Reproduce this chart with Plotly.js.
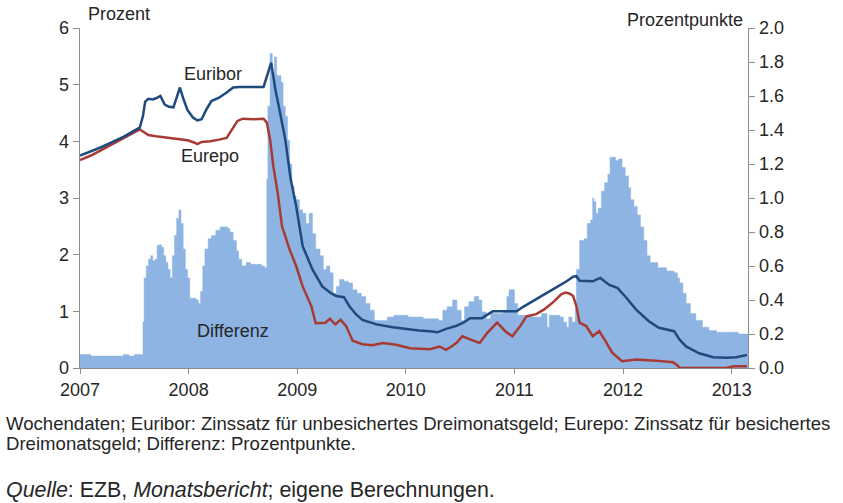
<!DOCTYPE html>
<html>
<head>
<meta charset="utf-8">
<script src="https://cdn.plot.ly/plotly-3.0.1.min.js"></script>
<style>html,body{margin:0;padding:0;background:#fff;}#chart{width:843px;height:503px;}</style>
</head>
<body>
<div id="chart"></div>
<script>
// Differenz (Prozentpunkte, rechte Skala) — decimal years
const diffYears = [2007.00,2007.05,2007.10,2007.15,2007.20,2007.25,2007.30,2007.35,2007.40,2007.45,2007.50,2007.55,
2007.58,2007.59,2007.61,2007.63,2007.65,2007.67,2007.69,2007.71,2007.73,2007.75,2007.77,2007.79,2007.81,2007.83,2007.85,2007.87,2007.89,2007.91,2007.93,2007.95,2007.97,2007.99,
2008.01,2008.04,2008.07,2008.09,2008.11,2008.13,2008.15,2008.18,2008.21,2008.25,2008.29,2008.33,2008.36,2008.38,2008.41,2008.44,2008.46,2008.49,2008.53,2008.57,2008.62,2008.67,2008.70,
2008.72,2008.73,2008.75,2008.77,2008.79,2008.81,2008.83,2008.85,2008.87,2008.89,2008.91,2008.93,2008.95,2008.97,2008.99,
2009.02,2009.05,2009.08,2009.11,2009.14,2009.17,2009.21,2009.24,2009.27,2009.30,2009.33,2009.36,2009.39,2009.43,2009.47,2009.51,2009.55,2009.59,2009.63,2009.67,2009.71,2009.77,2009.83,2009.89,2009.95,
2010.02,2010.10,2010.16,2010.22,2010.30,2010.34,2010.38,2010.43,2010.47,2010.51,2010.54,2010.58,2010.63,2010.67,2010.70,2010.74,2010.78,2010.85,2010.90,2010.93,2010.95,2010.98,
2011.00,2011.03,2011.10,2011.18,2011.25,2011.30,2011.32,2011.37,2011.42,2011.45,2011.48,2011.50,2011.53,2011.56,2011.57,2011.60,2011.64,2011.67,2011.70,2011.72,2011.73,2011.75,2011.77,2011.80,2011.83,2011.86,2011.88,2011.91,2011.93,2011.96,2011.99,
2012.02,2012.05,2012.07,2012.10,2012.13,2012.16,2012.19,2012.22,2012.25,2012.32,2012.40,2012.47,2012.50,2012.52,2012.55,2012.58,2012.62,2012.67,2012.73,2012.79,2012.86,2012.95,
2013.02,2013.06,2013.15];
const diffValues = [0.08,0.08,0.07,0.07,0.07,0.07,0.07,0.07,0.08,0.07,0.08,0.08,
0.27,0.53,0.60,0.64,0.66,0.63,0.64,0.72,0.725,0.71,0.66,0.62,0.58,0.53,0.66,0.78,0.88,0.93,0.85,0.70,0.58,0.53,
0.41,0.41,0.40,0.38,0.45,0.60,0.70,0.76,0.78,0.81,0.83,0.83,0.82,0.80,0.75,0.69,0.64,0.60,0.62,0.61,0.61,0.60,0.59,
1.11,1.54,1.85,1.74,1.83,1.72,1.72,1.68,1.54,1.48,1.34,1.20,1.07,1.01,0.99,
0.93,0.91,0.85,0.91,0.79,0.70,0.66,0.58,0.60,0.56,0.44,0.48,0.52,0.51,0.50,0.46,0.44,0.42,0.38,0.34,0.28,0.28,0.30,0.31,0.31,
0.30,0.30,0.29,0.29,0.28,0.34,0.36,0.40,0.34,0.28,0.36,0.39,0.42,0.40,0.33,0.29,0.32,0.32,0.33,0.42,0.46,0.46,
0.38,0.31,0.30,0.30,0.32,0.24,0.31,0.31,0.30,0.27,0.24,0.30,0.27,0.35,0.58,0.75,0.76,0.85,0.87,1.00,0.98,0.91,0.94,1.04,1.09,1.14,1.24,1.24,1.22,1.23,1.18,
1.13,1.06,0.99,0.95,0.90,0.83,0.75,0.66,0.62,0.59,0.57,0.56,0.53,0.50,0.44,0.38,0.32,0.28,0.24,0.22,0.21,0.21,
0.21,0.20,0.20];

// Euribor (Prozent, linke Skala)
const euriborYears = [2007.00,2007.10,2007.20,2007.30,2007.40,2007.50,2007.55,2007.58,2007.60,2007.63,2007.67,2007.70,2007.74,2007.78,2007.82,2007.86,2007.89,2007.92,2007.95,2007.99,
2008.04,2008.08,2008.12,2008.16,2008.21,2008.28,2008.35,2008.41,2008.47,2008.55,2008.62,2008.69,2008.76,2008.80,2008.83,2008.89,2008.94,2008.99,
2009.05,2009.14,2009.23,2009.31,2009.36,2009.43,2009.48,2009.54,2009.60,2009.73,2009.88,
2010.04,2010.12,2010.22,2010.29,2010.37,2010.46,2010.53,2010.59,2010.70,2010.80,2010.91,
2011.02,2011.08,2011.14,2011.20,2011.27,2011.36,2011.40,2011.48,2011.54,2011.57,2011.60,2011.72,2011.79,2011.87,2011.95,
2012.03,2012.12,2012.24,2012.33,2012.47,2012.52,2012.58,2012.70,2012.83,2012.95,2013.04,2013.14];
const euriborValues = [3.75,3.82,3.90,3.99,4.08,4.19,4.24,4.45,4.70,4.75,4.74,4.76,4.80,4.65,4.61,4.60,4.78,4.95,4.76,4.55,
4.42,4.37,4.39,4.55,4.71,4.77,4.86,4.95,4.96,4.96,4.97,4.96,5.39,4.90,4.62,4.03,3.33,2.86,
2.15,1.74,1.44,1.32,1.27,1.25,1.09,0.95,0.85,0.77,0.72,
0.68,0.66,0.65,0.63,0.69,0.74,0.80,0.88,0.88,1.00,1.00,
1.00,1.08,1.15,1.22,1.29,1.40,1.44,1.53,1.61,1.62,1.54,1.53,1.59,1.47,1.41,
1.24,1.03,0.82,0.71,0.65,0.50,0.38,0.26,0.19,0.18,0.19,0.23];

// Eurepo (Prozent, linke Skala)
const eurepoYears = [2007.00,2007.10,2007.20,2007.30,2007.40,2007.50,2007.55,2007.59,2007.63,2007.70,2007.78,2007.86,2007.92,2007.99,
2008.05,2008.08,2008.12,2008.20,2008.28,2008.35,2008.39,2008.45,2008.50,2008.60,2008.69,2008.72,2008.75,2008.78,2008.82,2008.86,2008.93,2008.99,
2009.05,2009.09,2009.13,2009.17,2009.26,2009.30,2009.35,2009.40,2009.45,2009.51,2009.60,2009.69,2009.79,2009.91,
2010.04,2010.13,2010.22,2010.31,2010.37,2010.42,2010.47,2010.52,2010.60,2010.68,2010.75,2010.84,2010.92,2010.98,
2011.05,2011.11,2011.20,2011.27,2011.35,2011.43,2011.47,2011.51,2011.54,2011.57,2011.60,2011.66,2011.72,2011.78,2011.83,2011.90,2011.99,
2012.12,2012.30,2012.46,2012.50,2012.52,2012.95,2013.02,2013.14];
const eurepoValues = [3.67,3.75,3.85,3.95,4.05,4.15,4.21,4.16,4.11,4.09,4.07,4.06,4.04,4.02,
3.98,3.95,3.99,4.00,4.03,4.06,4.18,4.36,4.40,4.39,4.40,4.33,4.03,3.56,3.09,2.50,2.09,1.80,
1.44,1.27,1.09,0.79,0.80,0.87,0.77,0.85,0.74,0.48,0.42,0.40,0.44,0.41,
0.35,0.34,0.33,0.38,0.32,0.38,0.45,0.56,0.50,0.44,0.62,0.80,0.64,0.56,
0.73,0.91,0.95,1.03,1.15,1.30,1.33,1.31,1.27,1.09,0.80,0.74,0.56,0.65,0.50,0.27,0.12,
0.15,0.13,0.10,0.05,0.00,0.00,0.03,0.03];

const xTickYears = [2007,2008,2009,2010,2011,2012,2013];

const font = 'Liberation Sans, Arial, sans-serif';
const textColor = '#262626';
const axisColor = '#8c8c8c';

const traces = [
  {x: diffYears, y: diffValues, type: 'scatter', mode: 'lines', line: {shape: 'hv', width: 0.5, color: '#8DB4E2'},
   fill: 'tozeroy', fillcolor: '#8DB4E2', yaxis: 'y', hoverinfo: 'skip', name: 'Differenz'},
  {x: eurepoYears, y: eurepoValues, type: 'scatter', mode: 'lines', line: {color: '#A93A33', width: 2.5},
   yaxis: 'y2', hoverinfo: 'skip', name: 'Eurepo'},
  {x: euriborYears, y: euriborValues, type: 'scatter', mode: 'lines', line: {color: '#1F4A7E', width: 2.5},
   yaxis: 'y2', hoverinfo: 'skip', name: 'Euribor'}
];

const layout = {
  width: 843, height: 503,
  margin: {l: 80, r: 95, t: 28, b: 135},
  paper_bgcolor: '#fff', plot_bgcolor: '#fff',
  showlegend: false,
  font: {family: font, size: 18, color: textColor},
  xaxis: {range: [2007, 2013.15], tickvals: xTickYears, ticktext: xTickYears.map(String),
    showgrid: false, zeroline: false, showline: true, linecolor: axisColor, linewidth: 1.3,
    ticks: 'outside', ticklen: 5, tickcolor: axisColor, tickfont: {size: 18, color: textColor}},
  yaxis: {range: [0, 2], dtick: 0.2, tickformat: '.1f', side: 'right',
    showgrid: false, zeroline: false, showline: true, linecolor: axisColor, linewidth: 1.3,
    ticks: 'outside', ticklen: 6, tickcolor: axisColor, tickfont: {size: 18, color: textColor}},
  yaxis2: {range: [0, 6], dtick: 1, side: 'left', overlaying: 'y',
    showgrid: false, zeroline: false, showline: true, linecolor: axisColor, linewidth: 1.3,
    ticks: 'outside', ticklen: 6, tickcolor: axisColor, tickfont: {size: 18, color: textColor}},
  annotations: [
    {text: 'Prozent', xref: 'paper', yref: 'paper', x: 0.009, y: 1.04, xanchor: 'left', yanchor: 'middle', showarrow: false, font: {size: 18}},
    {text: 'Prozentpunkte', xref: 'paper', yref: 'paper', x: 0.9955, y: 1.025, xanchor: 'right', yanchor: 'middle', showarrow: false, font: {size: 18}},
    {text: 'Euribor', xref: 'x', yref: 'y2', x: 2008.22, y: 5.18, showarrow: false, font: {size: 18}},
    {text: 'Eurepo', xref: 'x', yref: 'y2', x: 2008.20, y: 3.75, showarrow: false, font: {size: 18}},
    {text: 'Differenz', xref: 'x', yref: 'y2', x: 2008.41, y: 0.65, showarrow: false, font: {size: 18}},
    {text: 'Wochendaten; Euribor: Zinssatz für unbesichertes Dreimonatsgeld; Eurepo: Zinssatz für besichertes',
     xref: 'paper', yref: 'paper', x: -0.1138, y: (368.3 - 424) / 340, xanchor: 'left', yanchor: 'middle', align: 'left', showarrow: false, font: {size: 18.6}},
    {text: 'Dreimonatsgeld; Differenz: Prozentpunkte.',
     xref: 'paper', yref: 'paper', x: -0.1138, y: (368.3 - 444) / 340, xanchor: 'left', yanchor: 'middle', align: 'left', showarrow: false, font: {size: 18.6}},
    {text: '<i>Quelle</i>: EZB, <i>Monatsbericht</i>; eigene Berechnungen.',
     xref: 'paper', yref: 'paper', x: -0.1138, y: (368.3 - 490) / 340, xanchor: 'left', yanchor: 'middle', align: 'left', showarrow: false, font: {size: 21.4}}
  ]
};

Plotly.newPlot('chart', traces, layout, {staticPlot: true, displayModeBar: false});
</script>
</body>
</html>
